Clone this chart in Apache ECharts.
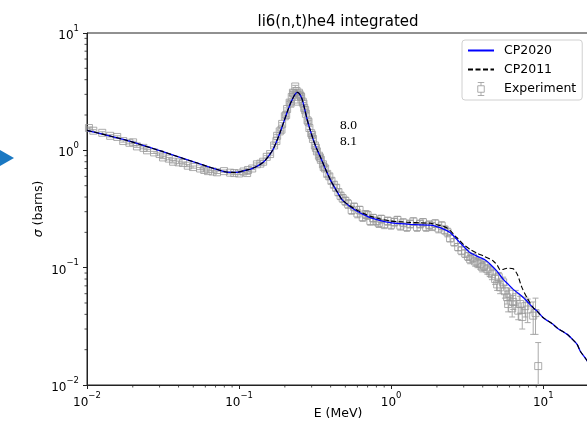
<!DOCTYPE html>
<html><head><meta charset="utf-8">
<script src="https://cdn.jsdelivr.net/npm/echarts@6/dist/echarts.min.js"></script>
<style>html,body{margin:0;padding:0;background:#fff}#c{width:587px;height:426px}</style>
</head><body><div id="c"></div>
<script>
// CP2020 evaluation (blue solid)
const cp2020E = [0.01,0.0181,0.0326,0.0514,0.081,0.095,0.11,0.118,0.131,0.144,0.156,0.1675,0.177,0.186,0.197,0.207,0.216,0.224,0.232,0.241,0.25,0.26,0.27,0.28,0.293,0.307,0.323,0.341,0.367,0.397,0.434,0.474,0.53,0.594,0.66,0.727,0.85,0.985,1.15,1.33,1.55,1.81,1.95,2.1,2.27,2.44,2.71,2.98,3.31,3.85,4.2,4.48,4.96,5.46,5.9,6.35,7.39,7.82,8.59,9.14,10,11.6,12.4,14.4,15.1,16.7,17.5,19.5,20];
const cp2020S = [1.48,1.22,0.96,0.79,0.656,0.648,0.675,0.689,0.73,0.79,0.89,1.02,1.2,1.42,1.75,2.11,2.45,2.72,2.97,3.12,3.02,2.72,2.25,1.84,1.5,1.24,1.04,0.889,0.71,0.566,0.46,0.382,0.336,0.304,0.283,0.267,0.252,0.242,0.237,0.234,0.232,0.23,0.226,0.219,0.21,0.199,0.174,0.153,0.134,0.122,0.115,0.107,0.0935,0.0794,0.072,0.0653,0.0558,0.0518,0.0455,0.0425,0.0375,0.0329,0.0305,0.027,0.0255,0.0222,0.0195,0.016,0.015];
// CP2011 evaluation (black dashed)
const cp2011E = [0.01,0.0181,0.0326,0.0514,0.081,0.095,0.11,0.118,0.131,0.144,0.156,0.1675,0.177,0.186,0.197,0.207,0.216,0.224,0.232,0.241,0.25,0.26,0.27,0.28,0.293,0.307,0.323,0.341,0.367,0.397,0.434,0.474,0.53,0.594,0.66,0.727,0.85,0.985,1.15,1.33,1.55,1.81,2.0,2.32,2.71,3.0,3.31,3.7,4.03,4.69,5.0,5.21,5.5,5.77,6.35,6.75,7.25,7.82,8.59,9.14,10,11.6,12.4,14.4,15.1,16.7,17.5,19.5,20];
const cp2011S = [1.48,1.22,0.96,0.79,0.656,0.648,0.675,0.689,0.73,0.79,0.89,1.02,1.2,1.42,1.75,2.11,2.45,2.72,2.97,3.12,3.02,2.72,2.25,1.84,1.5,1.24,1.04,0.889,0.71,0.566,0.46,0.382,0.34,0.31,0.29,0.275,0.26,0.25,0.246,0.243,0.241,0.239,0.232,0.219,0.18,0.157,0.143,0.132,0.126,0.114,0.104,0.096,0.097,0.099,0.0977,0.0877,0.0676,0.0555,0.0456,0.0425,0.0375,0.0329,0.0305,0.027,0.0255,0.0222,0.0195,0.016,0.015];
// Experimental data: energy (MeV), cross section (b), uncertainty (b)
const expE = [0.0103,0.0110,0.0126,0.0142,0.0158,0.0173,0.0190,0.0201,0.0213,0.0235,0.0248,0.0276,0.0300,0.0316,0.0345,0.0368,0.0400,0.0428,0.0460,0.0498,0.0554,0.0590,0.0625,0.0670,0.0716,0.0796,0.0873,0.0930,0.100,0.107,0.113,0.1146,0.122,0.131,0.138,0.144,0.152,0.160,0.170,0.176,0.178,0.185,0.190,0.192,0.200,0.204,0.207,0.215,0.218,0.222,0.226,0.228,0.234,0.239,0.244,0.247,0.250,0.254,0.256,0.262,0.265,0.268,0.272,0.275,0.282,0.286,0.290,0.298,0.302,0.306,0.315,0.320,0.325,0.335,0.340,0.345,0.356,0.360,0.368,0.380,0.392,0.405,0.420,0.435,0.450,0.465,0.480,
0.50,0.52,0.55,0.57,0.60,0.62,0.65,0.68,0.70,0.73,0.76,0.80,0.83,0.86,0.90,0.95,1.00,1.05,1.10,1.15,1.20,1.27,1.33,1.40,1.48,1.55,1.62,1.70,1.78,1.86,1.95,2.05,2.15,2.25,2.35,
2.44,2.60,2.76,2.90,3.07,3.20,3.31,3.45,3.57,3.70,3.85,3.97,4.10,4.29,4.45,4.60,4.83,4.98,5.10,5.21,5.45,5.60,5.79,5.88,6.00,6.25,6.35,6.60,6.85,7.05,7.28,7.62,7.90,8.59,8.90,9.27];
const expS = [1.55,1.47,1.41,1.33,1.30,1.20,1.16,1.17,1.08,1.05,1.00,0.96,0.93,0.87,0.85,0.80,0.79,0.78,0.74,0.72,0.70,0.68,0.665,0.66,0.65,0.665,0.645,0.64,0.635,0.66,0.64,0.68,0.70,0.76,0.77,0.80,0.88,0.93,1.10,1.20,1.33,1.45,1.50,1.68,1.95,2.00,2.25,2.55,2.50,2.85,3.10,3.05,3.50,3.20,2.60,3.10,3.00,2.90,2.85,2.60,2.50,2.30,2.20,2.05,1.80,1.75,1.55,1.40,1.35,1.25,1.10,1.05,0.98,0.90,0.87,0.83,0.76,0.72,0.70,0.63,0.60,0.55,0.51,0.48,0.44,0.41,0.39,
0.37,0.35,0.31,0.33,0.29,0.31,0.27,0.285,0.28,0.25,0.265,0.25,0.24,0.26,0.235,0.25,0.232,0.245,0.255,0.228,0.242,0.222,0.236,0.248,0.222,0.236,0.244,0.222,0.232,0.225,0.238,0.216,0.228,0.21,0.2,
0.178,0.165,0.150,0.140,0.132,0.125,0.118,0.122,0.113,0.110,0.107,0.101,0.104,0.097,0.093,0.088,0.080,0.072,0.083,0.068,0.075,0.063,0.056,0.049,0.060,0.045,0.051,0.056,0.043,0.049,0.038,0.047,0.044,0.039,0.041,0.0145];
const expErr = [0.03,0.03,0.03,0.03,0.03,0.025,0.025,0.025,0.02,0.02,0.02,0.02,0.02,0.02,0.02,0.02,0.02,0.015,0.015,0.015,0.015,0.015,0.015,0.015,0.015,0.015,0.015,0.015,0.015,0.015,0.015,0.015,0.015,0.02,0.02,0.02,0.02,0.02,0.03,0.03,0.03,0.04,0.04,0.04,0.05,0.05,0.05,0.06,0.06,0.07,0.07,0.07,0.08,0.08,0.07,0.07,0.07,0.07,0.07,0.06,0.06,0.06,0.05,0.05,0.05,0.05,0.04,0.04,0.04,0.03,0.03,0.03,0.03,0.03,0.03,0.03,0.03,0.03,0.03,0.03,0.03,0.03,0.03,0.03,0.03,0.03,0.03,
0.03,0.03,0.025,0.025,0.024,0.024,0.022,0.022,0.022,0.02,0.02,0.02,0.02,0.02,0.02,0.02,0.019,0.019,0.019,0.019,0.019,0.018,0.018,0.018,0.018,0.018,0.018,0.018,0.018,0.018,0.018,0.018,0.018,0.017,0.017,
0.012,0.012,0.011,0.011,0.01,0.01,0.01,0.01,0.01,0.01,0.01,0.009,0.009,0.009,0.009,0.009,0.008,0.008,0.008,0.008,0.008,0.008,0.007,0.007,0.007,0.007,0.007,0.008,0.007,0.008,0.008,0.009,0.01,0.012,0.014,0.0085];
const xTickValues = [0.01,0.1,1,10];
const yTickValues = [0.01,0.1,1,10];

const FONT = 'DejaVu Sans';
const chart = echarts.init(document.getElementById('c'), null, {renderer:'canvas'});

function pair(xs, ys){ return xs.map((x,i)=>[x, ys[i]]); }
function logLabel(v){
  const l = Math.log10(v), e = Math.round(l);
  if (Math.abs(l - e) > 1e-6) return '';
  return '{b|10}{s|' + (e < 0 ? '\u2212' + (-e) : String(e)) + '}';
}
const labelRich = {
  b: {fontSize: 12, fontFamily: FONT, color: '#000', lineHeight: 18, verticalAlign: 'bottom'},
  s: {fontSize: 8.5, fontFamily: FONT, color: '#000', lineHeight: 9, verticalAlign: 'top'}
};
const minorVals = [];
[0.01,0.1,1].forEach(d => { for (let k=2;k<=9;k++) minorVals.push(+(d*k).toPrecision(3)); });

const option = {
  animation: false,
  backgroundColor: '#fff',
  title: {
    text: 'li6(n,t)he4 integrated', left: 338, top: 13, textAlign: 'center', padding: 0,
    textStyle: {fontFamily: FONT, fontSize: 15, fontWeight: 'normal', color: '#000', lineHeight: 18}
  },
  legend: {
    orient: 'vertical', left: 462, top: 40,
    padding: [4, 6, 4, 5], itemGap: 6, itemWidth: 26, itemHeight: 13,
    backgroundColor: '#fff', borderColor: '#d0d0d0', borderWidth: 1, borderRadius: 3,
    textStyle: {fontFamily: FONT, fontSize: 12.5, color: '#000', padding: [0,0,0,5]},
    data: [
      {name: 'CP2020', itemStyle: {opacity: 0}},
      {name: 'CP2011', itemStyle: {opacity: 0}},
      {name: 'Experiment', icon: 'path://M0,0L6,0M3,0L3,3M0,3L6,3L6,9L0,9ZM3,9L3,12M0,12L6,12',
       itemStyle: {color: 'rgba(0,0,0,0)', borderColor: '#999', borderWidth: 1}}]
  },
  grid: {left: 87, top: 33, right: -2, bottom: 41, outerBoundsMode: 'none', containLabel: false,
    show: true, borderColor: '#222', borderWidth: 1, backgroundColor: 'rgba(0,0,0,0)'},
  xAxis: {
    type: 'log', logBase: 10, min: 0.01, max: 20,
    name: 'E (MeV)', nameLocation: 'middle', nameGap: 22, nameMoveOverlap: false,
    nameTextStyle: {fontFamily: FONT, fontSize: 12.5, color: '#000'},
    axisLine: {show: true, lineStyle: {color: '#222', width: 1}},
    axisTick: {show: true, inside: false, length: 4, lineStyle: {color: '#222'}},
    axisLabel: {margin: 6, formatter: logLabel, rich: labelRich, showMaxLabel: false},
    splitLine: {show: false}
  },
  yAxis: {
    type: 'log', logBase: 10, min: 0.01, max: 10,
    name: '{i|\u03c3} (barns)', nameLocation: 'middle', nameGap: 42, nameRotate: 90, nameMoveOverlap: false,
    nameTextStyle: {fontFamily: FONT, fontSize: 12.5, color: '#000',
      rich: {i: {fontFamily: FONT, fontStyle: 'italic', fontSize: 12.5, color: '#000'}}},
    axisLine: {show: true, lineStyle: {color: '#222', width: 1}},
    axisTick: {show: true, inside: false, length: 4, lineStyle: {color: '#222'}},
    axisLabel: {margin: 8, formatter: logLabel, rich: labelRich},
    splitLine: {show: false}
  },
  graphic: [
    {type: 'polygon', shape: {points: [[0,150],[14,158],[0,166]]}, style: {fill: '#1a78c2'}},
    {type: 'text', left: 340, top: 118, style: {text: '8.0', font: '13.5px "Liberation Serif"', fill: '#000'}},
    {type: 'text', left: 340, top: 134, style: {text: '8.1', font: '13.5px "Liberation Serif"', fill: '#000'}}
  ],
  series: [
    {
      type: 'custom', name: 'xminor', silent: true, clip: false, z: 5,
      data: minorVals.map(v => [v, 0.01]),
      renderItem: function(params, api){
        const p = api.coord([api.value(0), 0.01]);
        return {type: 'line', shape: {x1: p[0], y1: p[1], x2: p[0], y2: p[1] + 2.5}, style: {stroke: '#222', lineWidth: 0.8}};
      }
    },
    {
      type: 'custom', name: 'yminor', silent: true, clip: false, z: 5,
      data: minorVals.map(v => [0.01, v]),
      renderItem: function(params, api){
        const p = api.coord([0.01, api.value(1)]);
        return {type: 'line', shape: {x1: p[0] - 2.5, y1: p[1], x2: p[0], y2: p[1]}, style: {stroke: '#222', lineWidth: 0.8}};
      }
    },
    {
      type: 'custom', name: 'Experiment error', silent: true, clip: true, z: 1,
      data: expE.map((e,i) => [e, expS[i] - expErr[i], expS[i] + expErr[i]]),
      encode: {x: 0, y: [1, 2]},
      renderItem: function(params, api){
        const x = api.value(0);
        const lo = api.coord([x, api.value(1)]);
        const hi = api.coord([x, api.value(2)]);
        const st = {stroke: '#aaaaaa', lineWidth: 1, fill: null};
        return {type: 'group', children: [
          {type: 'line', shape: {x1: lo[0], y1: lo[1], x2: hi[0], y2: hi[1]}, style: st},
          {type: 'line', shape: {x1: lo[0]-3, y1: lo[1], x2: lo[0]+3, y2: lo[1]}, style: st},
          {type: 'line', shape: {x1: hi[0]-3, y1: hi[1], x2: hi[0]+3, y2: hi[1]}, style: st}
        ]};
      }
    },
    {
      type: 'scatter', name: 'Experiment', z: 2, symbol: 'rect', symbolSize: 7,
      itemStyle: {color: 'rgba(0,0,0,0)', borderColor: '#999', borderWidth: 1},
      data: pair(expE, expS)
    },
    {
      type: 'line', name: 'CP2020', z: 3, showSymbol: false, symbol: 'none', smooth: 0.25,
      lineStyle: {color: '#0000ff', width: 1.3}, itemStyle: {color: '#0000ff'},
      data: pair(cp2020E, cp2020S)
    },
    {
      type: 'line', name: 'CP2011', z: 4, showSymbol: false, symbol: 'none', smooth: 0.25,
      lineStyle: {color: '#000', width: 1.1, type: [5, 2.5]}, itemStyle: {color: '#000'},
      data: pair(cp2011E, cp2011S)
    }
  ]
};
chart.setOption(option);
</script></body></html>
